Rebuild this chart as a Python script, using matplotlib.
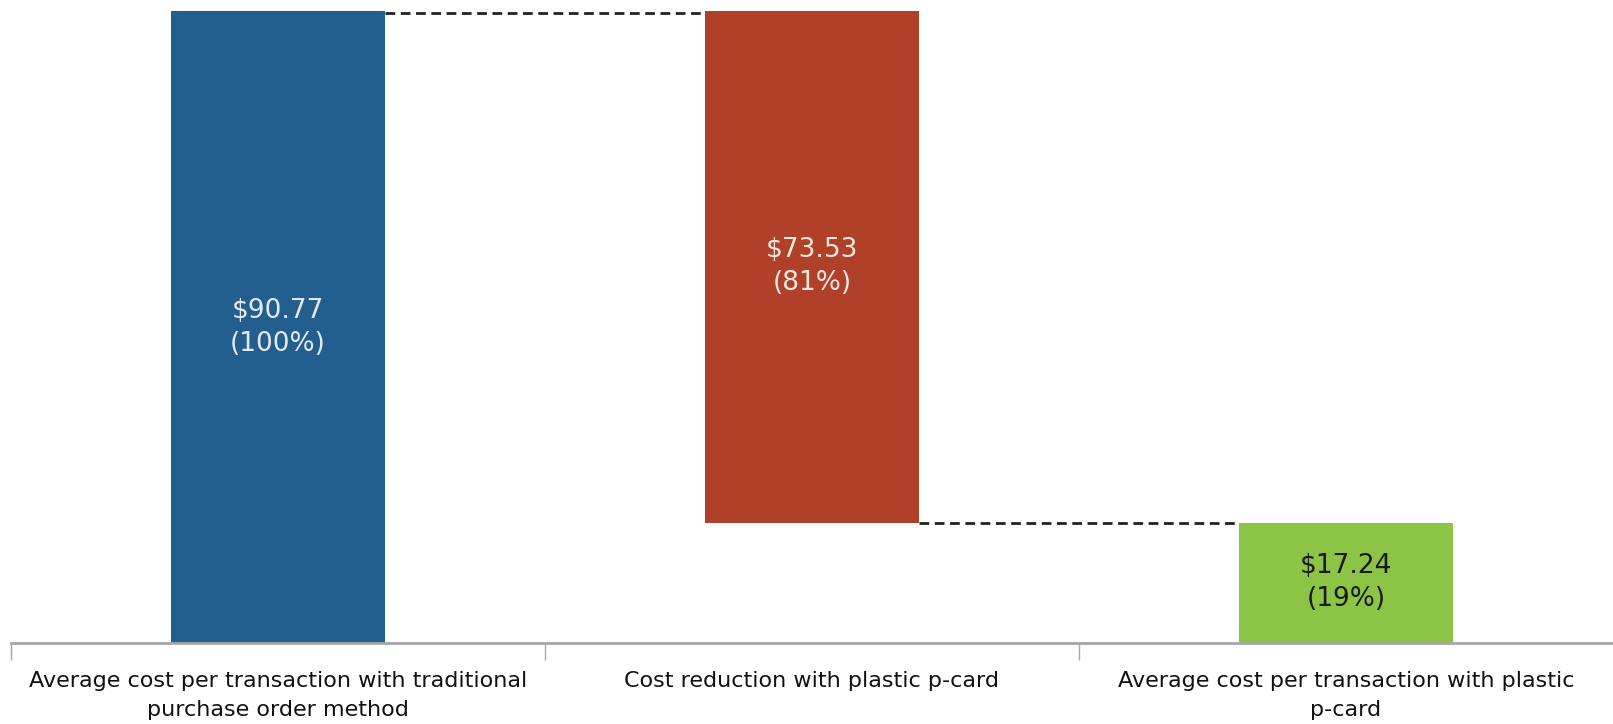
import matplotlib
matplotlib.use("Agg")
import matplotlib.pyplot as plt
import numpy as np

categories = ["Average cost per transaction with traditional\npurchase order method",
              "Cost reduction with plastic p-card",
              "Average cost per transaction with plastic\np-card"]
values = [90.77, -73.53, 17.24]
shares = ["100%", "81%", "19%"]
colors = ["#235F8E", "#B04128", "#8CC546"]
text_colors = ["#E6E8F0", "#F0E6E0", "#1A1A1A"]

# waterfall: bottoms and heights
start = values[0]
reduction = -values[1]
end = values[2]
bottoms = [0, end, 0]
heights = [start, reduction, end]

fig = plt.figure(figsize=(16.13, 7.24), dpi=100)
ax = fig.add_axes([11 / 1613, 81 / 724, 1 - 11 / 1613, 643 / 724])

x = np.arange(len(categories))
ax.bar(x, heights, bottom=bottoms, width=0.40, color=colors, zorder=2)

# connectors
w = 0.20
ax.plot([x[0] + w, x[1] - w], [start - 0.3, start - 0.3], ls=(0, (3.5, 2)), color="#222222", lw=2, zorder=3)
ax.plot([x[1] + w, x[2] - w], [end, end], ls=(0, (3.5, 2)), color="#222222", lw=2, zorder=3)

for i in range(len(categories)):
    label = "$%.2f\n(%s)" % (abs(values[i]), shares[i])
    ax.text(x[i], bottoms[i] + heights[i] / 2, label, ha="center", va="center",
            fontsize=19, color=text_colors[i], linespacing=1.35)

ax.set_xlim(-0.5, 2.5)
ax.set_ylim(0, 92.35)
ax.set_yticks([])
for side in ["top", "right", "left"]:
    ax.spines[side].set_visible(False)
ax.spines["bottom"].set_color("#A6A6A6")
ax.spines["bottom"].set_linewidth(2)

ax.set_xticks(x)
ax.set_xticklabels(categories, fontsize=16, color="#111111", linespacing=1.6)
ax.tick_params(axis="x", which="major", length=0, pad=20)
ax.set_xticks([-0.5, 0.5, 1.5], minor=True)
ax.tick_params(axis="x", which="minor", length=12, width=1, color="#A6A6A6")

fig.savefig("out.png", dpi=100)
